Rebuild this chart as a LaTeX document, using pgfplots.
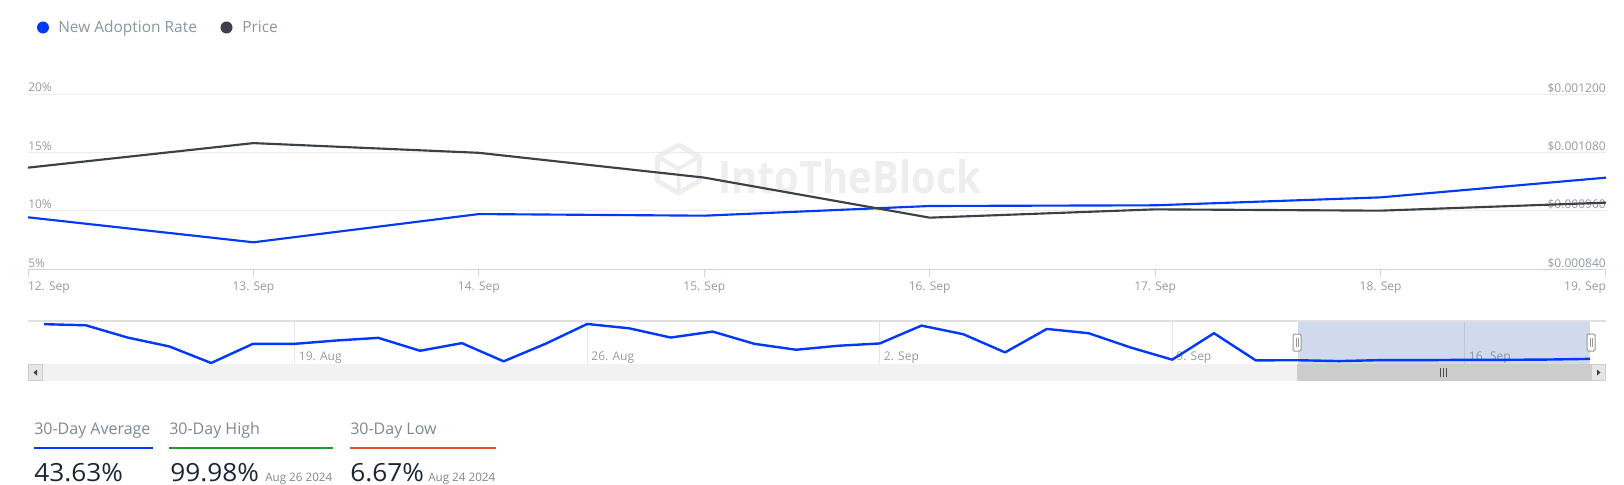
\documentclass[border=0pt]{standalone}
\usepackage{pgfplots}
\pgfplotsset{compat=1.18}
\usepackage{pgfplotstable}
\usepackage{fontspec}
\setmainfont{Open Sans}
\usepackage{graphicx}

\definecolor{blue1}{HTML}{0038FF}
\definecolor{dark1}{HTML}{3C4047}
\definecolor{grid1}{HTML}{EBEBEB}
\definecolor{axis1}{HTML}{CCD6EB}
\definecolor{lab1}{HTML}{969BA2}
\definecolor{leg1}{HTML}{8C95A0}
\definecolor{wm}{HTML}{EEEEEE}
\definecolor{selc}{HTML}{6685C2}
\definecolor{sbtrack}{HTML}{F2F2F2}
\definecolor{sbthumb}{HTML}{CCCCCC}
\definecolor{sbbtn}{HTML}{E6E6E6}
\definecolor{navgrid}{HTML}{E6E6E6}
\definecolor{navtop}{HTML}{E0E0E0}
\definecolor{stat}{HTML}{1D2733}
\definecolor{statlab}{HTML}{7F8893}
\definecolor{green1}{HTML}{22992E}
\definecolor{red1}{HTML}{E0502F}

% main chart: day 0 = 12 Sep
\pgfplotstableread{
day rate
0 9.43
1 7.29
2 9.71
3 9.57
4 10.40
5 10.46
6 11.14
7 12.83
}\adoption

\pgfplotstableread{
day price
0 0.0010485
1 0.0010990
2 0.0010790
3 0.0010280
4 0.0009456
5 0.0009627
6 0.0009600
7 0.0009765
}\price

% navigator: day 0 = 13 Aug
\pgfplotstableread{
day rate
0 99.5
1 96.7
2 66.1
3 43.8
4 2.5
5 50.4
6 50.4
7 58.7
8 65.3
9 33.1
10 52.1
11 6.67
12 50.4
13 99.98
14 89.2
15 66.1
16 81.0
17 50.4
18 35.6
19 45.5
20 51.3
21 95.9
22 74.4
23 29.0
24 87.6
25 76.9
26 41.4
27 10.8
28 76.9
29 9.1
30 9.43
31 7.29
32 9.71
33 9.57
34 10.40
35 10.46
36 11.14
37 12.83
}\nav

\begin{document}
\begin{tikzpicture}
\begin{scope}[x=0.75pt,y=-0.75pt]
\fill[white] (0,0) rectangle (1624,485);
\path[use as bounding box] (0,0) rectangle (1624,485);
% watermark
\draw[wm, line width=3.75pt, line join=round]
  (678.5,145) -- (699.3,157) -- (699.3,181) -- (678.5,193) -- (657.7,181) -- (657.7,157) -- cycle;
\draw[wm, line width=3pt, line join=round]
  (678.5,169) -- (678.5,191) (678.5,169) -- (660,158) (678.5,169) -- (697,158);
\node[anchor=base west, inner sep=0pt, text=wm, font=\fontsize{33.6pt}{36pt}\selectfont\bfseries] at (718,193) {\scalebox{0.89}[1]{IntoTheBlock}};
% legend
\fill[blue1] (43,27.5) circle[radius=6];
\node[anchor=base west, inner sep=0pt, text=leg1, font=\fontsize{11.6pt}{13pt}\selectfont] at (58,32.5) {New Adoption Rate};
\fill[dark1] (226.5,27.5) circle[radius=6];
\node[anchor=base west, inner sep=0pt, text=leg1, font=\fontsize{11.6pt}{13pt}\selectfont] at (242,32.5) {Price};
\end{scope}

% main axis (percent)
\begin{axis}[
  at={(21pt,-201.75pt)}, anchor=south west, scale only axis,
  width=1183.5pt, height=131.25pt,
  xmin=0, xmax=7, ymin=5, ymax=20,
  axis x line*=bottom, axis y line*=left,
  y axis line style={draw=none},
  x axis line style={draw=axis1, line width=0.75pt},
  xtick={0,...,7},
  xticklabels={\makebox[0pt][l]{12. Sep}, 13. Sep, 14. Sep, 15. Sep, 16. Sep, 17. Sep, 18. Sep, \makebox[0pt][r]{19. Sep}},
  tick align=outside, major tick length=6pt,
  xtick style={draw=axis1, line width=0.75pt},
  ytick={5,10,15,20}, yticklabels={5\%,10\%,15\%,20\%},
  ytick style={draw=none},
  ymajorgrids, grid style={draw=grid1, line width=0.75pt},
  ticklabel style={font=\fontsize{9pt}{10pt}\selectfont, text=lab1, inner sep=0pt},
  yticklabel style={anchor=base west, xshift=6pt, yshift=1.5pt},
  xticklabel style={anchor=base, yshift=-9.75pt},
  scaled y ticks=false,
  clip=false,
  /pgf/number format/assume math mode=true,
]
\addplot[blue1, line width=1.6pt, line join=round] table[x=day,y=rate]{\adoption};
\end{axis}

% price axis
\begin{axis}[
  at={(21pt,-201.75pt)}, anchor=south west, scale only axis,
  width=1183.5pt, height=131.25pt,
  xmin=0, xmax=7, ymin=0.00084, ymax=0.0012,
  hide x axis,
  axis y line*=right, y axis line style={draw=none}, ytick style={draw=none},
  ytick={0.00084,0.00096,0.00108,0.0012},
  yticklabels={\$0.000840,\$0.000960,\$0.001080,\$0.001200},
  yticklabel style={anchor=base east, yshift=1.5pt, font=\fontsize{9pt}{10pt}\selectfont, text=lab1, inner sep=0pt},
  scaled y ticks=false,
  clip=false,
  /pgf/number format/assume math mode=true,
]
\addplot[dark1, line width=1.6pt, line join=round] table[x=day,y=price]{\price};
\end{axis}

% navigator
\begin{axis}[
  at={(21pt,-273pt)}, anchor=south west, scale only axis,
  width=1183.5pt, height=32.25pt,
  xmin=-0.383, xmax=37.383, ymin=0, ymax=107.4,
  axis x line*=bottom, x axis line style={draw=none}, xtick style={draw=none},
  hide y axis,
  xtick={6,13,20,27,34},
  xticklabels={19. Aug,26. Aug,2. Sep,9. Sep,16. Sep},
  xmajorgrids, grid style={draw=navgrid, line width=0.75pt},
  xticklabel style={anchor=base west, inner sep=0pt, xshift=3pt, yshift=3pt, font=\fontsize{9pt}{10pt}\selectfont, text=lab1},
  clip=false,
]
\fill[selc, fill opacity=0.3] (axis cs:30,0) rectangle (axis cs:37,107.4);
\draw[navtop, line width=1.5pt] (rel axis cs:0,1) -- (rel axis cs:1,1);
\addplot[blue1, line width=1.8pt, line join=round] table[x=day,y=rate]{\nav};
\end{axis}

\begin{scope}[x=0.75pt,y=-0.75pt]
% scrollbar
\fill[sbtrack] (28,364) rectangle (1606,381);
\fill[sbthumb] (1297,364) rectangle (1591,381);
\draw[black!70, line width=0.5pt] (1440.5,368) -- (1440.5,377) (1443.5,368) -- (1443.5,377) (1446.5,368) -- (1446.5,377);
\draw[sbthumb, fill=sbbtn, line width=0.75pt] (28.5,364.5) rectangle (42.5,380.5);
\draw[sbthumb, fill=sbbtn, line width=0.75pt] (1591.5,364.5) rectangle (1605.5,380.5);
\fill[black!75] (33.5,372.5) -- (37,369.5) -- (37,375.5) -- cycle;
\fill[black!75] (1600.5,372.5) -- (1597,369.5) -- (1597,375.5) -- cycle;
% handles
\draw[black!40, fill=white, line width=0.75pt, rounded corners=1pt] (1293,334) rectangle (1301,351);
\draw[black!40, line width=0.5pt] (1296,338) -- (1296,347) (1298,338) -- (1298,347);
\draw[black!40, fill=white, line width=0.75pt, rounded corners=1pt] (1587,334) rectangle (1595,351);
\draw[black!40, line width=0.5pt] (1590,338) -- (1590,347) (1592,338) -- (1592,347);
% stats
\node[anchor=base west, inner sep=0pt, text=statlab, font=\fontsize{12pt}{14pt}\selectfont] at (34,434) {30-Day Average};
\draw[blue1, line width=1.5pt] (34,447.5) -- (153,447.5);
\node[anchor=base west, inner sep=0pt, text=statlab, font=\fontsize{12pt}{14pt}\selectfont] at (169,434) {30-Day High};
\draw[green1, line width=1.5pt] (169,447.5) -- (333,447.5);
\node[anchor=base west, inner sep=0pt, text=statlab, font=\fontsize{12pt}{14pt}\selectfont] at (350,434) {30-Day Low};
\draw[red1, line width=1.5pt] (350,447.5) -- (496,447.5);
\node[anchor=base west, inner sep=0pt, text=stat, font=\fontsize{18.75pt}{20pt}\selectfont] at (34,481) {\scalebox{1.05}[1]{43.63\%}};
\node[anchor=base west, inner sep=0pt, text=stat, font=\fontsize{18.75pt}{20pt}\selectfont] at (170,481) {\scalebox{1.05}[1]{99.98\%}};
\node[anchor=base west, inner sep=0pt, text=statlab, font=\fontsize{8.75pt}{10pt}\selectfont] at (265,481) {Aug 26 2024};
\node[anchor=base west, inner sep=0pt, text=stat, font=\fontsize{18.75pt}{20pt}\selectfont] at (350,481) {\scalebox{1.05}[1]{6.67\%}};
\node[anchor=base west, inner sep=0pt, text=statlab, font=\fontsize{8.75pt}{10pt}\selectfont] at (428,481) {Aug 24 2024};
\end{scope}
\end{tikzpicture}
\end{document}
